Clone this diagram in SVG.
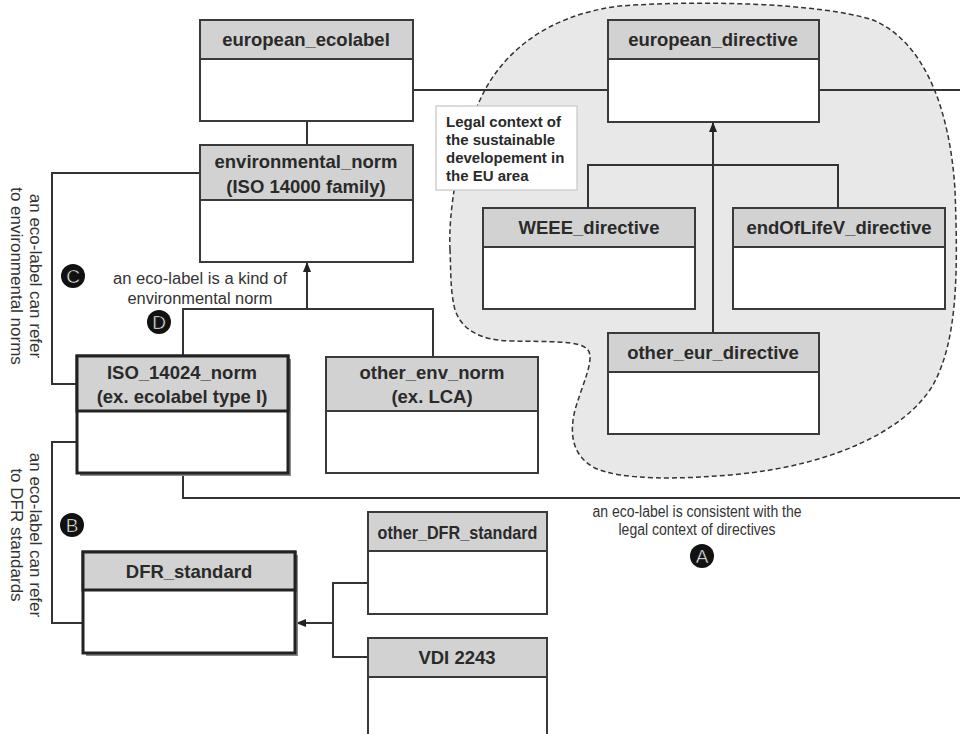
<svg xmlns="http://www.w3.org/2000/svg" width="960" height="734" viewBox="0 0 960 734">
<defs>
<style>
.hdr{fill:#d2d2d2;stroke:#3a3a3a;stroke-width:2}
.bdy{fill:#ffffff;stroke:#3a3a3a;stroke-width:2}
.thk{stroke:#222;stroke-width:3}
.shd{fill:#8a8a8a}
.t{font-family:"Liberation Sans",Arial,sans-serif;font-weight:bold;font-size:18.5px;fill:#2a2a2a;text-anchor:middle}
.lbl{font-family:"Liberation Sans",Arial,sans-serif;font-size:16px;fill:#333;text-anchor:middle}
.rl{font-size:17px}
.note{font-family:"Liberation Sans",Arial,sans-serif;font-weight:bold;font-size:15px;fill:#2a2a2a}
.con{fill:none;stroke:#333;stroke-width:2}
.badge{fill:#111}
.bl{font-family:"Liberation Sans",Arial,sans-serif;font-size:19px;fill:#fff;text-anchor:middle;stroke:#111;stroke-width:0.6}
</style>
<marker id="arr" markerWidth="10" markerHeight="10" refX="9" refY="5" orient="auto" markerUnits="userSpaceOnUse">
<path d="M0,1 L10,5 L0,9 Z" fill="#222"/>
</marker>
</defs>
<rect width="960" height="734" fill="#ffffff"/>

<g id="legal_area">
<path d="M 450 250 C 448 215, 458 145, 480 100 C 500 55, 545 15, 620 6 C 700 0, 820 3, 873 20 C 925 42, 950 110, 955 190 C 958 270, 958 340, 933 385 C 905 432, 830 465, 740 474 C 680 480, 620 480, 595 468 C 570 455, 570 430, 575 410 C 582 385, 595 360, 588 350 C 580 340, 550 342, 510 341 C 480 340, 462 330, 455 310 C 450 290, 451 270, 450 250 Z" fill="#e8e8e8" stroke="#333" stroke-width="1.5" stroke-dasharray="5,3"/>
</g>

<g id="connectors">
<line class="con" x1="307" y1="121" x2="307" y2="145"/>
<line class="con" x1="413" y1="90" x2="608" y2="90"/>
<line class="con" x1="819" y1="90" x2="960" y2="90"/>
<polyline class="con" points="588,208 588,165 838,165 838,208"/>
<line class="con" x1="713" y1="333" x2="713" y2="123" marker-end="url(#arr)"/>
<polyline class="con" points="200,173 52,173 52,384 77,384"/>
<polyline class="con" points="77,442 52,442 52,623 83,623"/>
<polyline class="con" points="183,356 183,309 433,309 433,357"/>
<line class="con" x1="307" y1="309" x2="307" y2="263" marker-end="url(#arr)"/>
<polyline class="con" points="183,474 183,498 960,498"/>
<polyline class="con" points="368,583 333,583 333,657 368,657"/>
<line class="con" x1="333" y1="623" x2="297" y2="623" marker-end="url(#arr)"/>
</g>

<g id="labels">
<text class="lbl rl" transform="translate(30,276) rotate(90)">an eco-label can refer</text>
<text class="lbl rl" transform="translate(11,276) rotate(90)">to environmental norms</text>
<text class="lbl rl" transform="translate(30,535) rotate(90)">an eco-label can refer</text>
<text class="lbl rl" transform="translate(11,535) rotate(90)">to DFR standards</text>
<text class="lbl" x="200" y="284" textLength="174" lengthAdjust="spacingAndGlyphs">an eco-label is a kind of</text>
<text class="lbl" x="200" y="304" textLength="145" lengthAdjust="spacingAndGlyphs">environmental norm</text>
<text class="lbl" x="697" y="517" textLength="209" lengthAdjust="spacingAndGlyphs">an eco-label is consistent with the</text>
<text class="lbl" x="697" y="535" textLength="157" lengthAdjust="spacingAndGlyphs">legal context of directives</text>
<circle class="badge" cx="702" cy="556" r="12"/><text class="bl" x="702" y="563">A</text>
<circle class="badge" cx="72" cy="525" r="12"/><text class="bl" x="72" y="532">B</text>
<circle class="badge" cx="73" cy="276" r="12"/><text class="bl" x="73" y="283">C</text>
<circle class="badge" cx="159" cy="322" r="12"/><text class="bl" x="159" y="329">D</text>
</g>

<g id="european_ecolabel">
<rect class="bdy" x="200" y="20" width="213" height="101"/>
<rect class="hdr" x="200" y="20" width="213" height="39"/>
<text class="t" x="306" y="46">european_ecolabel</text>
</g>

<g id="environmental_norm">
<rect class="bdy" x="200" y="145" width="213" height="117"/>
<rect class="hdr" x="200" y="145" width="213" height="55"/>
<text class="t" x="306" y="168">environmental_norm</text>
<text class="t" x="306" y="193">(ISO 14000 family)</text>
</g>

<g id="european_directive">
<rect class="bdy" x="608" y="20" width="211" height="102"/>
<rect class="hdr" x="608" y="20" width="211" height="39"/>
<text class="t" x="713" y="46">european_directive</text>
</g>

<g id="WEEE_directive">
<rect class="bdy" x="483" y="208" width="212" height="101"/>
<rect class="hdr" x="483" y="208" width="212" height="39"/>
<text class="t" x="589" y="234">WEEE_directive</text>
</g>

<g id="endOfLifeV_directive">
<rect class="bdy" x="733" y="208" width="212" height="101"/>
<rect class="hdr" x="733" y="208" width="212" height="39"/>
<text class="t" x="839" y="234">endOfLifeV_directive</text>
</g>

<g id="other_eur_directive">
<rect class="bdy" x="608" y="333" width="211" height="101"/>
<rect class="hdr" x="608" y="333" width="211" height="39"/>
<text class="t" x="713" y="359">other_eur_directive</text>
</g>

<g id="ISO_14024_norm">
<rect class="shd" x="80" y="359" width="211" height="117"/>
<rect class="bdy thk" x="77" y="356" width="211" height="117"/>
<rect class="hdr thk" x="77" y="356" width="211" height="55"/>
<text class="t" x="182" y="379">ISO_14024_norm</text>
<text class="t" x="182" y="403">(ex. ecolabel type I)</text>
</g>

<g id="other_env_norm">
<rect class="bdy" x="326" y="357" width="212" height="116"/>
<rect class="hdr" x="326" y="357" width="212" height="54"/>
<text class="t" x="432" y="379">other_env_norm</text>
<text class="t" x="432" y="403">(ex. LCA)</text>
</g>

<g id="DFR_standard">
<rect class="shd" x="86" y="555" width="212" height="101"/>
<rect class="bdy thk" x="83" y="552" width="212" height="101"/>
<rect class="hdr thk" x="83" y="552" width="212" height="38"/>
<text class="t" x="189" y="578">DFR_standard</text>
</g>

<g id="other_DFR_standard">
<rect class="bdy" x="368" y="512" width="179" height="102"/>
<rect class="hdr" x="368" y="512" width="179" height="39"/>
<text class="t" x="457.5" y="539" textLength="160" lengthAdjust="spacingAndGlyphs">other_DFR_standard</text>
</g>

<g id="VDI_2243">
<rect class="bdy" x="368" y="638" width="179" height="110"/>
<rect class="hdr" x="368" y="638" width="179" height="39"/>
<text class="t" x="457" y="664">VDI 2243</text>
</g>

<g id="note">
<rect x="436" y="106" width="141" height="84" fill="#ffffff" stroke="#d0d0d0" stroke-width="1.5"/>
<text class="note" x="446" y="127">Legal context of</text>
<text class="note" x="446" y="145">the sustainable</text>
<text class="note" x="446" y="163">developement in</text>
<text class="note" x="446" y="181">the EU area</text>
</g>
</svg>
